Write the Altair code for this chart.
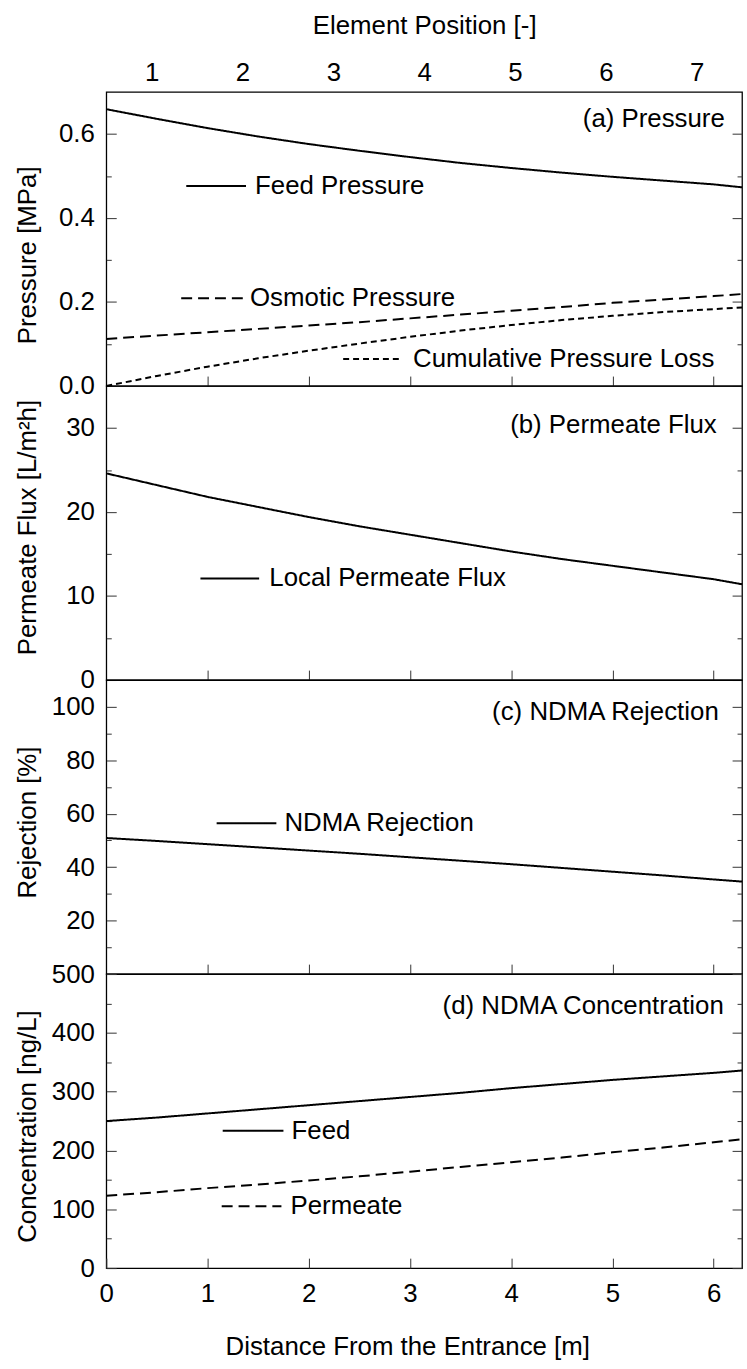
import altair as alt
import pandas as pd

FONT = "Liberation Sans"
FS = 26
W, H = 640, 296
X_MAX = 6.28  # seven elements of ~0.897 m

# distance from the entrance [m]
distance = [0, 0.5, 1, 1.5, 2, 2.5, 3, 3.5, 4, 4.5, 5, 5.5, 6, 6.28]

# (a) pressures [MPa]
feed_pressure = [0.659, 0.636, 0.614, 0.594, 0.576, 0.560, 0.545, 0.531,
                 0.519, 0.508, 0.498, 0.489, 0.480, 0.473]
osmotic_pressure = [0.112, 0.120, 0.128, 0.136, 0.144, 0.152, 0.161, 0.170,
                    0.179, 0.188, 0.198, 0.206, 0.214, 0.219]
pressure_loss = [0.0, 0.024, 0.046, 0.066, 0.084, 0.101, 0.117, 0.132,
                 0.145, 0.157, 0.167, 0.176, 0.183, 0.187]

# (b) local permeate flux [L/m2h]
permeate_flux = [24.6, 23.2, 21.8, 20.6, 19.4, 18.3, 17.3, 16.3,
                 15.3, 14.4, 13.6, 12.8, 12.0, 11.4]

# (c) NDMA rejection [%]
ndma_rejection = [50.9, 49.8, 48.6, 47.4, 46.2, 45.0, 43.7, 42.4,
                  41.1, 39.7, 38.3, 36.9, 35.4, 34.6]

# (d) NDMA concentration [ng/L]
ndma_feed = [250, 256, 263, 270, 277, 284, 291, 298, 306, 313, 320, 326, 332, 336]
ndma_permeate = [123, 129, 136, 142, 149, 156, 164, 172, 180, 188, 197, 205, 214, 219]

# element numbers along the vessel
elements = [1, 2, 3, 4, 5, 6, 7]
element_ticks = [1, 1.5, 2, 2.5, 3, 3.5, 4, 4.5, 5, 5.5, 6, 6.5, 7]

SOLID = [1, 0]
DASHED = [11, 6]
DOTTED = [6, 4]


def long_table(series):
    rows = []
    for name, values in series:
        for d, v in zip(distance, values):
            rows.append({"dist": d, "value": v, "series": name})
    return pd.DataFrame(rows)


def legend_table(names, x0, x1, y, xt):
    return pd.DataFrame({"series": names, "x0": x0, "x1": x1, "y": y, "xt": xt})


def y_axes(major, minor, fmt, title, title_shift):
    values = sorted(major + minor)
    major_js = "[" + ",".join(repr(v) for v in major) + "]"
    is_minor = f"indexof({major_js}, datum.value) < 0"
    dash = {"condition": {"test": is_minor, "value": [5, 40]}, "value": [40, 0]}
    common = dict(values=values, tickSize={"expr": "-10"}, tickDash=dash,
                  grid=False, domain=False)
    left = alt.Axis(orient="left", format=fmt, labelPadding=22,
                    labelExpr=f"indexof({major_js}, datum.value) >= 0 ? datum.label : ''",
                    labelAlign="right", labelBaseline="middle",
                    title=title, titleX=-79, titleY=H / 2 + title_shift, titleAngle=270,
                    titleAlign="center", titleBaseline="middle", **common)
    right = alt.Axis(orient="right", labels=False, title=None, **common)
    return left, right


def panel(df, order, dashes, ydomain, major, minor, fmt, ytitle, title_shift,
          legend, tag, tag_pos, bottom_labels=False, top_axis=False):
    xscale = alt.Scale(domain=[0, X_MAX], nice=False, zero=False)
    yscale = alt.Scale(domain=ydomain, nice=False, zero=False)
    dash_scale = alt.Scale(domain=order, range=dashes)
    left, right = y_axes(major, minor, fmt, ytitle, title_shift)

    if bottom_labels:
        x_axis = alt.Axis(orient="bottom", values=[0, 1, 2, 3, 4, 5, 6], format="d",
                          tickSize={"expr": "-10"}, labelPadding=23,
                          title="Distance From the Entrance [m]",
                          titleX=W / 2 - 17, titleY=79, titleBaseline="middle",
                          titleAlign="center", grid=False, domain=False)
    else:
        x_axis = alt.Axis(orient="bottom", values=[1, 2, 3, 4, 5, 6],
                          tickSize={"expr": "-10"}, labels=False, title=None,
                          grid=False, domain=False)
    other_x_axis = None if top_axis else x_axis

    base = alt.Chart(df)
    lines = base.mark_line(color="black", strokeWidth=2).encode(
        x=alt.X("dist:Q", scale=xscale, axis=x_axis),
        y=alt.Y("value:Q", scale=yscale, axis=left),
        strokeDash=alt.StrokeDash("series:N", scale=dash_scale, legend=None),
    )
    ghost = base.mark_line(opacity=0).encode(
        x=alt.X("dist:Q", scale=xscale, axis=other_x_axis),
        y=alt.Y("value:Q", scale=yscale, axis=right),
        detail="series:N",
    )
    keys = alt.Chart(legend).mark_rule(color="black", strokeWidth=2).encode(
        x=alt.X("x0:Q", scale=xscale, axis=other_x_axis),
        x2="x1:Q",
        y=alt.Y("y:Q", scale=yscale, axis=None),
        strokeDash=alt.StrokeDash("series:N", scale=dash_scale, legend=None),
    )
    key_text = alt.Chart(legend).mark_text(align="left", baseline="middle").encode(
        x=alt.X("xt:Q", scale=xscale, axis=other_x_axis),
        y=alt.Y("y:Q", scale=yscale, axis=None),
        text="series:N",
    )
    tag_df = pd.DataFrame({"tag": [tag], "x": [tag_pos[0]], "y": [tag_pos[1]]})
    tag_text = alt.Chart(tag_df).mark_text(align="right", baseline="middle").encode(
        x=alt.X("x:Q", scale=xscale, axis=other_x_axis),
        y=alt.Y("y:Q", scale=yscale, axis=None),
        text="tag:N",
    )
    layers = [lines, ghost, keys, key_text, tag_text]

    if top_axis:
        el_axis = alt.Axis(orient="top", values=element_ticks, format="d",
                           labelExpr="datum.value % 1 == 0 ? datum.label : ''",
                           tickOpacity={"condition": {"test": "datum.value % 1 == 0", "value": 0},
                                        "value": 1},
                           tickSize=10, labelPadding=10, labelBaseline="middle",
                           title="Element Position [-]", titleY=-67,
                           titleBaseline="middle", titleX=W / 2, titleAlign="center",
                           grid=False, domain=False)
        el_df = pd.DataFrame({"element": elements})
        el_layer = alt.Chart(el_df).mark_point(opacity=0).encode(
            x=alt.X("element:Q", scale=alt.Scale(domain=[0.5, 7.5], nice=False, zero=False),
                    axis=el_axis),
        )
        layers.append(el_layer)

    chart = alt.layer(*layers).properties(width=W, height=H).resolve_axis(y="independent")
    if top_axis:
        chart = chart.resolve_scale(x="independent")
    return chart


# (a) Pressure
a_names = ["Feed Pressure", "Osmotic Pressure", "Cumulative Pressure Loss"]
pa = panel(
    long_table(zip(a_names, [feed_pressure, osmotic_pressure, pressure_loss])),
    a_names, [SOLID, DASHED, DOTTED], [0, 0.7],
    [0, 0.2, 0.4, 0.6], [0.1, 0.3, 0.5], ".1f", "Pressure [MPa]", 16,
    legend_table(a_names, [0.79, 0.74, 2.34], [1.38, 1.35, 2.92],
                 [0.476, 0.209, 0.0645], [1.47, 1.42, 3.03]),
    "(a) Pressure", (6.11, 0.636), top_axis=True,
)

# (b) Permeate flux
b_names = ["Local Permeate Flux"]
pb = panel(
    long_table(zip(b_names, [permeate_flux])),
    b_names, [SOLID], [0, 35],
    [0, 10, 20, 30], [5, 15, 25], "d", "Permeate Flux [L/m²h]", -6,
    legend_table(b_names, [0.93], [1.51], [12.1], [1.61]),
    "(b) Permeate Flux", (6.03, 30.4),
)

# (c) NDMA rejection
c_names = ["NDMA Rejection"]
pc = panel(
    long_table(zip(c_names, [ndma_rejection])),
    c_names, [SOLID], [0, 110],
    [20, 40, 60, 80, 100], [10, 30, 50, 70, 90], "d", "Rejection [%]", -5,
    legend_table(c_names, [1.09], [1.68], [56.4], [1.76]),
    "(c) NDMA Rejection", (6.05, 98.2),
)

# (d) NDMA concentration
d_names = ["Feed", "Permeate"]
pdn = panel(
    long_table(zip(d_names, [ndma_feed, ndma_permeate])),
    d_names, [SOLID, DASHED], [0, 500],
    [0, 100, 200, 300, 400, 500], [50, 150, 250, 350, 450], "d", "Concentration [ng/L]", 5,
    legend_table(d_names, [1.15, 1.14], [1.75, 1.73], [233.4, 105.0], [1.83, 1.82]),
    "(d) NDMA Concentration", (6.10, 445.5), bottom_labels=True,
)

chart = (
    alt.vconcat(pa, pb, pc, pdn, spacing=0, bounds="flush")
    .resolve_scale(x="independent", y="independent", strokeDash="independent")
    .properties(padding={"left": 14, "top": 7, "right": 0, "bottom": 5})
    .configure_view(stroke="black", strokeWidth=1.3)
    .configure_axis(labelFont=FONT, labelFontSize=FS, labelColor="black",
                    titleFont=FONT, titleFontSize=FS, titleColor="black",
                    titleFontWeight="normal", tickColor="#333", tickWidth=1,
                    labelFlush=False, labelOverlap=False)
    .configure_text(font=FONT, fontSize=FS, color="black")
)

chart.save("out.html", embed_options={"renderer": "svg", "actions": False})
